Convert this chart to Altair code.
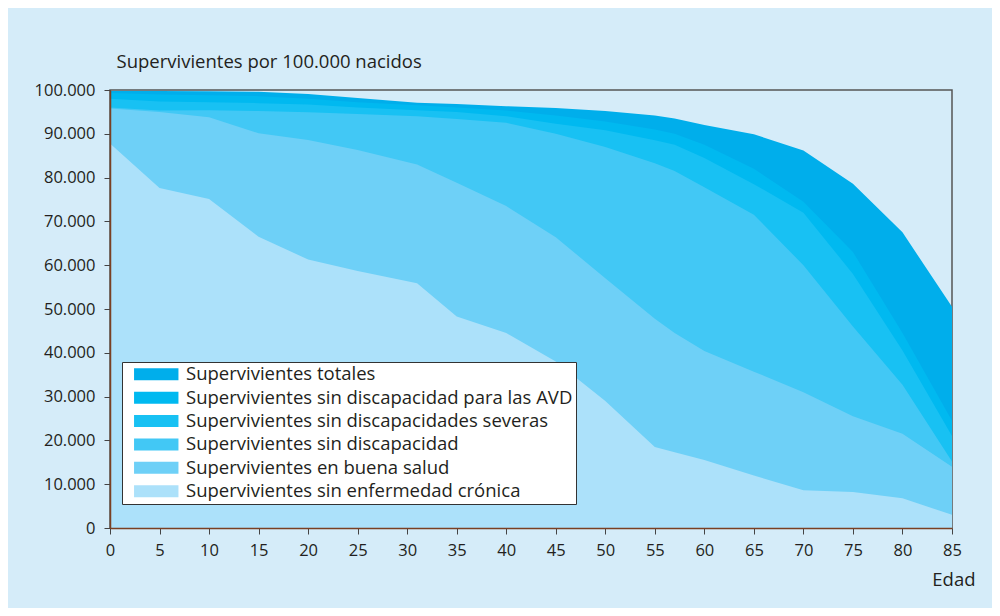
import altair as alt
import pandas as pd

# Ages (x) where the series change slope
ages = [0, 5, 10, 15, 20, 25, 31, 35, 40, 45, 50, 55, 57, 60, 65, 70, 75, 80, 85]

totales = [99800, 99800, 99700, 99600, 99100, 98200, 97100, 96800, 96300, 95900,
           95200, 94200, 93500, 92000, 89900, 86200, 78600, 67500, 50500]
sin_avd = [99300, 99000, 98800, 98600, 98000, 97200, 96500, 96000, 95300, 94200,
           92800, 91000, 90000, 87500, 82000, 74500, 63000, 44500, 24500]
sin_severas = [98000, 97400, 97200, 97000, 96700, 96000, 95400, 95000, 94000, 92300,
               90800, 88500, 87500, 84500, 78500, 72000, 58000, 40500, 21000]
sin_discapacidad = [96000, 95300, 95400, 95200, 94900, 94500, 94000, 93400, 92500, 90000,
                    87000, 83300, 81500, 77800, 71500, 60000, 46000, 32700, 15200]
buena_salud = [95800, 95000, 93800, 90100, 88600, 86300, 83000, 78800, 73500, 66400,
               57000, 47800, 44500, 40400, 35700, 31000, 25500, 21500, 14000]
sin_cronica = [87800, 77600, 75100, 66500, 61300, 58700, 55900, 48300, 44500, 38000,
               29000, 18500, 17300, 15500, 12000, 8600, 8200, 6800, 3000]

series_names = [
    "Supervivientes totales",
    "Supervivientes sin discapacidad para las AVD",
    "Supervivientes sin discapacidades severas",
    "Supervivientes sin discapacidad",
    "Supervivientes en buena salud",
    "Supervivientes sin enfermedad crónica",
]
series_values = [totales, sin_avd, sin_severas, sin_discapacidad, buena_salud, sin_cronica]
series_colors = ["#00AEEB", "#00B9F0", "#18C1F3", "#42C8F5", "#6ED0F7", "#ACE1FA"]

rows = []
for name, vals in zip(series_names, series_values):
    for a, v in zip(ages, vals):
        rows.append({"serie": name, "edad": a, "valor": v})
df = pd.DataFrame(rows)

FONT = "Open Sans"
TXT = "#231F20"

color_scale = alt.Scale(domain=series_names, range=series_colors)

x_enc = alt.X(
    "edad:Q",
    scale=alt.Scale(domain=[0, 85], nice=False, zero=False),
    axis=alt.Axis(
        values=list(range(0, 86, 5)),
        title="Edad",
        titleX=865, titleY=57, titleAlign="right", titleBaseline="alphabetic",
        titleFont=FONT, titleFontSize=18.5, titleFontWeight="normal", titleColor=TXT,
        labelFont=FONT, labelFontSize=16.5, labelColor=TXT, labelPadding=8,
        tickSize=6, tickColor="#444", domainColor="#7A4023", domainWidth=1.5,
        grid=False, zindex=1, labelFlush=False,
    ),
)
y_enc = alt.Y(
    "valor:Q",
    stack=None,
    scale=alt.Scale(domain=[0, 100000], nice=False),
    axis=alt.Axis(
        values=list(range(0, 100001, 10000)),
        labelExpr="replace(format(datum.value, ','), ',', '.')",
        title="Supervivientes por 100.000 nacidos",
        titleAngle=0, titleX=6, titleY=-23, titleAlign="left", titleBaseline="alphabetic",
        titleFont=FONT, titleFontSize=18.5, titleFontWeight="normal", titleColor=TXT,
        labelFont=FONT, labelFontSize=16.5, labelColor=TXT, labelPadding=9,
        tickSize=6, tickColor="#444", domainColor="#7A4023", domainWidth=1.5,
        grid=False, zindex=1,
    ),
)
color_enc = alt.Color(
    "serie:N",
    scale=color_scale,
    sort=series_names,
    legend=alt.Legend(
        title=None,
        orient="none", legendX=12, legendY=272,
        fillColor="white", strokeColor="#333", padding=3,
        symbolType="M-3.7,-1H3.7V1H-3.7Z", symbolSize=144,
        symbolStrokeWidth=0, symbolOpacity=1, symbolOffset=22,
        labelOffset=20.5, labelFont=FONT, labelFontSize=18.5, labelColor=TXT,
        labelLimit=700, rowPadding=4.4,
    ),
)

layers = []
for name in series_names:
    layers.append(
        alt.Chart(df)
        .transform_filter(alt.datum.serie == name)
        .mark_area(interpolate="linear", opacity=1)
        .encode(x=x_enc, y=y_enc, color=color_enc)
    )

chart = (
    alt.layer(*layers)
    .properties(
        width=842, height=438,
        autosize=alt.AutoSizeParams(type="none"),
        padding={"left": 102, "top": 82, "right": 40, "bottom": 80},
        background="#D5ECF9",
    )
    .configure_view(stroke="#555", strokeWidth=1.5)
)

chart.save("out.html", embed_options={"renderer": "svg", "actions": False})
